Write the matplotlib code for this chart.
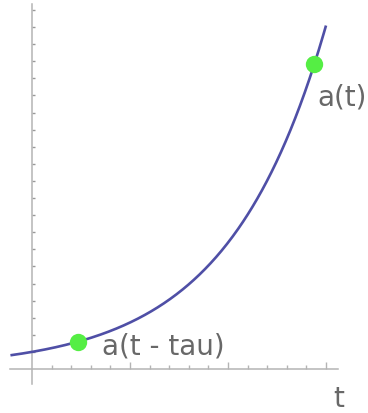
import matplotlib.pyplot as plt
import numpy as np

# time window of the curve a(t) = exp(t)
t_start = -0.22
t_end = 3.0
t_now = 2.88
tau = 2.41

point_times = [t_now - tau, t_now]
point_labels = ["a(t - tau)", "a(t)"]
label_offsets = [(17, -3), (2.5, -23)]   # offset points from each dot

x_minor = np.arange(0.2, 3.01, 0.2)
x_major = [1, 2, 3]
y_ticks = list(range(1, 22))

axis_color = "#b4b4b4"
text_color = "#686868"

fig = plt.figure(figsize=(3.68, 4.14), dpi=100)
ax = fig.add_axes([0, 0, 1, 1])

t = np.linspace(t_start, t_end, 400)
ax.plot(t, np.exp(t), color="#4f4fa6", lw=1.9, solid_capstyle="butt", zorder=3)

pt = np.array(point_times)
ax.plot(pt, np.exp(pt), "o", color="#55ee44", ms=12.5, mec="none", zorder=4)
for tt, lab, off in zip(point_times, point_labels, label_offsets):
    ax.annotate(lab, (tt, np.exp(tt)), xytext=off, textcoords="offset points",
                ha="left", va="center", fontsize=20, color=text_color)

ax.text(3.13, -1.72, "t", ha="center", va="center", fontsize=20, color=text_color)

# axes crossing at the origin
for side in ["top", "right"]:
    ax.spines[side].set_visible(False)
ax.spines["left"].set_position(("data", 0))
ax.spines["bottom"].set_position(("data", 0))
ax.spines["left"].set_bounds(-0.88, 21.35)
ax.spines["bottom"].set_bounds(-0.224, 3.122)
for side in ["left", "bottom"]:
    ax.spines[side].set_color(axis_color)
    ax.spines[side].set_linewidth(1.1)

ax.set_xticks(x_major)
ax.set_xticks(x_minor, minor=True)
ax.set_yticks(y_ticks)
ax.tick_params(axis="x", which="major", direction="in", length=5, width=1, color=axis_color, labelbottom=False)
ax.tick_params(axis="x", which="minor", direction="in", length=3, width=1, color=axis_color)
ax.tick_params(axis="y", which="major", direction="in", length=2, width=1, color="#999999", labelleft=False)

ax.set_xlim(-32 / 98, 336 / 98)
ax.set_ylim(-44 / 17.1, 370 / 17.1)
ax.patch.set_visible(False)

fig.savefig("out.png", dpi=100)
